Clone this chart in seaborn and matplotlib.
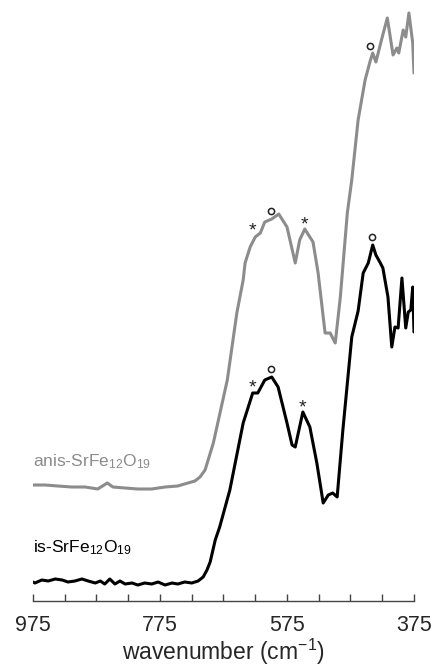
import numpy as np
import pandas as pd
import seaborn as sns
import matplotlib
matplotlib.use('Agg')
import matplotlib.pyplot as plt
from matplotlib.ticker import FixedLocator, NullFormatter

# is-SrFe12O19 spectrum (black), wavenumber in cm-1, intensity in a.u.
is_wn = [975, 972, 961, 951, 940, 929, 920, 909, 898, 888, 877, 869, 862, 854, 846, 838, 830,
         819, 810, 799, 788, 778, 767, 756, 747, 736, 725, 715, 707, 701, 696, 688, 681, 665,
         644, 629, 621, 610, 599, 589, 575, 567, 562, 550, 539, 528, 518, 510, 503, 496, 487,
         473, 463, 455, 447, 440, 435, 428, 424, 416, 410, 405, 400, 394, 388, 384, 380, 377, 375]
is_int = [19, 18, 21, 20, 22, 21, 19, 20, 22, 20, 18, 20, 17, 22, 17, 20, 17,
          18, 16, 18, 17, 19, 16, 18, 17, 19, 18, 20, 24, 31, 39, 61, 74, 111,
          178, 208, 208, 221, 224, 214, 178, 156, 154, 189, 174, 138, 98, 106, 108, 104, 171,
          264, 290, 328, 338, 356, 346, 338, 333, 304, 254, 274, 273, 323, 273, 289, 291, 314, 269]

# anis-SrFe12O19 spectrum (grey)
anis_wn = [975, 956, 936, 914, 893, 873, 858, 849, 830, 810, 788, 767, 747, 731, 720, 712, 704,
           691, 669, 654, 644, 641, 633, 625, 617, 610, 599, 588, 575, 562, 555, 547, 534, 526,
           515, 507, 499, 491, 480, 473, 463, 452, 444, 440, 435, 425, 417, 408, 402, 399, 392,
           388, 383, 377, 375]
anis_int = [116, 116, 115, 114, 114, 112, 118, 114, 113, 112, 112, 114, 115, 118, 120, 124, 131,
            158, 221, 288, 321, 338, 354, 364, 368, 379, 382, 387, 374, 338, 361, 372, 359, 328,
            268, 268, 258, 304, 388, 421, 481, 521, 540, 548, 539, 564, 583, 546, 553, 548, 571,
            564, 588, 558, 528]

# band markers (* and o)
star_wn = [629, 548, 629, 550]
star_int = [374, 380, 217, 197]
circ_wn = [600, 444, 600, 441]
circ_int = [390, 555, 232, 364]

major_ticks = [975, 775, 575, 375]
minor_ticks = [925, 875, 825, 725, 675, 625, 525, 475, 425]

grey = '#8c8c8c'

sns.set_theme(style='white')
plt.rcParams['font.family'] = ['Liberation Sans', 'DejaVu Sans']
plt.rcParams['mathtext.fontset'] = 'custom'
plt.rcParams['mathtext.rm'] = 'Liberation Sans'
plt.rcParams['mathtext.it'] = 'Liberation Sans'
plt.rcParams['xtick.bottom'] = True
plt.rcParams['xtick.minor.bottom'] = True

fig = plt.figure(figsize=(4.33, 6.68), dpi=100)
ax = fig.add_axes([0.0762, 0.1003, 0.8799, 0.8922])

df_is = pd.DataFrame({'wn': is_wn, 'I': is_int})
df_anis = pd.DataFrame({'wn': anis_wn, 'I': anis_int})
sns.lineplot(data=df_anis, x='wn', y='I', color=grey, lw=2.2, ax=ax, estimator=None)
sns.lineplot(data=df_is, x='wn', y='I', color='black', lw=2.2, ax=ax, estimator=None)

for w, v in zip(star_wn, star_int):
    ax.text(w, v - 4, '*', fontsize=14, ha='center', va='center', color='#222222')
sns.scatterplot(x=circ_wn, y=circ_int, marker='o', s=20, facecolor='white',
                edgecolor='#222222', linewidth=1.1, ax=ax, zorder=5)

ax.text(975, 139, 'anis-SrFe$_{12}$O$_{19}$', color=grey, fontsize=12.5, ha='left', va='center')
ax.text(975, 53, 'is-SrFe$_{12}$O$_{19}$', color='black', fontsize=12.5, ha='left', va='center')

ax.set_xlim(975, 375)
ax.set_ylim(0, 596)
ax.xaxis.set_major_locator(FixedLocator(major_ticks))
ax.xaxis.set_minor_locator(FixedLocator(minor_ticks))
ax.xaxis.set_minor_formatter(NullFormatter())
ax.tick_params(axis='x', which='both', direction='in', length=5, width=1, color='#444444',
               labelsize=15.5, pad=10, bottom=True)
ax.set_yticks([])
ax.set_ylabel('')
ax.set_xlabel('wavenumber (cm$^{-1}$)', fontsize=16.5, labelpad=1)
for s in ['top', 'right', 'left']:
    ax.spines[s].set_visible(False)
ax.spines['bottom'].set_color('#444444')
ax.spines['bottom'].set_linewidth(1)

fig.savefig('out.png', dpi=100)
